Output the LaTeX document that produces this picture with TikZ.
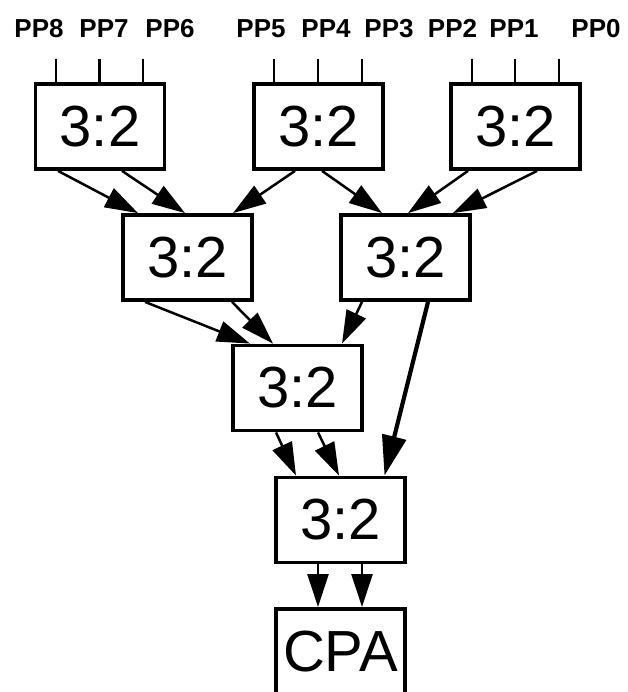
\documentclass[tikz,border=0pt]{standalone}
\usepackage{fontspec}
\setmainfont{Liberation Sans}
\usetikzlibrary{arrows.meta}
\begin{document}
\begin{tikzpicture}[x=1pt,y=-1pt,
  csa/.style={draw, line width=3.8pt, minimum width=129pt, minimum height=85pt,
    inner sep=0pt, font=\fontsize{58}{62}\selectfont},
  txt/.style={inner sep=0pt, font=\fontsize{58}{62}\selectfont},
  pplabel/.style={font=\bfseries\fontsize{26}{29}\selectfont, anchor=base, inner sep=0pt},
  wire/.style={line width=2.6pt},
  arr/.style={line width=2.5pt, -{Triangle[length=33pt,width=21pt]}},
  thickarr/.style={line width=4.2pt, -{Triangle[length=40pt,width=24pt]}}]
\useasboundingbox (0,0) rectangle (627,692);
\clip (0,0) rectangle (627,692);

% partial product labels
\node[pplabel] (pp8) at (39,37.5) {PP8};
\node[pplabel] (pp7) at (104,37.5) {PP7};
\node[pplabel] (pp6) at (170,37.5) {PP6};
\node[pplabel] (pp5) at (261,37.5) {PP5};
\node[pplabel] (pp4) at (326,37.5) {PP4};
\node[pplabel] (pp3) at (389,37.5) {PP3};
\node[pplabel] (pp2) at (452.5,37.5) {PP2};
\node[pplabel] (pp1) at (514,37.5) {PP1};
\node[pplabel] (pp0) at (596,37.5) {PP0};

% carry-save adders
\node[csa] (a) at (100,126.5) {3:2};
\node[csa] (b) at (318.5,126.5) {3:2};
\node[csa] (c) at (515.5,126.5) {3:2};
\node[csa] (d) at (187.5,257.5) {3:2};
\node[csa] (e) at (405.5,257.5) {3:2};
\node[csa] (f) at (297.5,388) {3:2};
\node[csa] (g) at (340.5,520) {3:2};

% carry-propagate adder
\node[csa, anchor=north, minimum height=130pt] (cpa) at (340.5,607) {};
\node[txt] (cpatxt) at (340.5,652) {CPA};

% input wires
\foreach \n/\x in {a1/56,a2/99.5,a3/143,b1/274,b2/318,b3/362,c1/472,c2/515,c3/559}{
  \coordinate (\n) at (\x,59);
}
\foreach \n/\tgt in {a1/a,a2/a,a3/a,b1/b,b2/b,b3/b,c1/c,c2/c,c3/c}{
  \draw[wire] (\n) -- (\n |- \tgt.north);
}

% first level
\draw[arr] ([xshift=-42pt]a.south) -- ([xshift=-49.5pt]d.north);
\draw[arr] ([xshift=22pt]a.south) -- ([xshift=-2.5pt]d.north);
\draw[arr] ([xshift=-23.5pt]b.south) -- ([xshift=45.5pt]d.north);
\draw[arr] ([xshift=3.5pt]b.south) -- ([xshift=-23.5pt]e.north);
\draw[arr] ([xshift=-47.5pt]c.south) -- ([xshift=2.5pt]e.north);
\draw[arr] ([xshift=21.5pt]c.south) -- ([xshift=47.5pt]e.north);

% second level
\draw[arr] ([xshift=-42.5pt]d.south) -- ([xshift=-47.5pt]f.north);
\draw[arr] ([xshift=44.5pt]d.south) -- ([xshift=-24.5pt]f.north);
\draw[arr] ([xshift=-43.5pt]e.south) -- ([xshift=44.5pt]f.north);
\draw[thickarr] ([xshift=22.5pt]e.south) -- ([xshift=44pt]g.north);

% third level
\draw[arr] ([xshift=-21.5pt]f.south) -- ([xshift=-44.5pt]g.north);
\draw[arr] ([xshift=20.5pt]f.south) -- ([xshift=-1.5pt]g.north);

% final adder
\draw[arr] ([xshift=-22.5pt]g.south) -- ([xshift=-22.5pt]cpa.north);
\draw[arr] ([xshift=21.5pt]g.south) -- ([xshift=21.5pt]cpa.north);
\end{tikzpicture}
\end{document}
